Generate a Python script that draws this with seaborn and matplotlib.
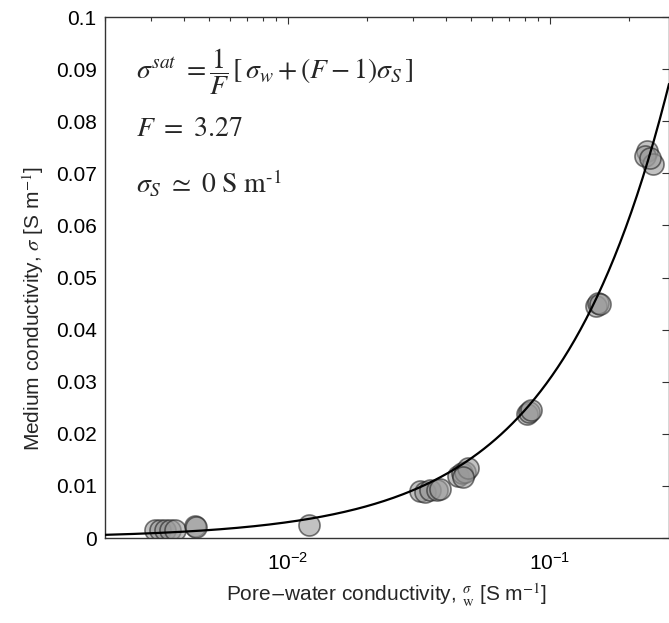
import numpy as np
import pandas as pd
import matplotlib
matplotlib.use("Agg")
import matplotlib.pyplot as plt
import seaborn as sns
from matplotlib.ticker import LogLocator, NullFormatter, FixedLocator

# ---- data ----
pore_water = [0.0031, 0.00325, 0.00339, 0.00355, 0.0037, 0.00442, 0.00445,
              0.0120,
              0.0319, 0.0334, 0.0348, 0.0370, 0.0380,
              0.0446, 0.0462, 0.0474, 0.0486, 0.0466,
              0.0820, 0.0832, 0.0845,
              0.150, 0.153, 0.155,
              0.2344, 0.2303, 0.247, 0.241]
medium = [0.0015, 0.0015, 0.0015, 0.0015, 0.0015, 0.0024, 0.0021,
          0.0025,
          0.0091, 0.0089, 0.0093, 0.0092, 0.0095,
          0.0119, 0.0124, 0.0127, 0.0134, 0.0117,
          0.0238, 0.0242, 0.0246,
          0.0446, 0.0451, 0.0449,
          0.0743, 0.0733, 0.0718, 0.0729]
F = 3.27
sigma_s = 0.0
x_limits = [0.002, 0.285]
y_limits = [0.0, 0.1]
y_ticks = [0, 0.01, 0.02, 0.03, 0.04, 0.05, 0.06, 0.07, 0.08, 0.09, 0.1]
y_tick_labels = ["0", "0.01", "0.02", "0.03", "0.04", "0.05", "0.06", "0.07", "0.08", "0.09", "0.1"]

df = pd.DataFrame({"sw": pore_water, "s": medium})
xs = np.logspace(np.log10(x_limits[0]), np.log10(x_limits[1]), 300)
curve = pd.DataFrame({"sw": xs, "s": (xs + (F - 1) * sigma_s) / F})

sns.set_theme(style="white")
plt.rcParams["font.family"] = ["Liberation Sans", "DejaVu Sans"]
plt.rcParams["mathtext.fontset"] = "stix"

fig = plt.figure(figsize=(6.69, 6.23), dpi=100)
ax = fig.add_axes([0.157, 0.1364, 0.843, 0.8363])

sns.lineplot(data=curve, x="sw", y="s", ax=ax, color="black", linewidth=1.6, zorder=3)
sns.scatterplot(data=df, x="sw", y="s", ax=ax, s=230, color="#9a9a9a", alpha=0.6,
                edgecolor="#222222", linewidth=1.2, zorder=2)

ax.set_xscale("log")
ax.set_xlim(*x_limits)
ax.set_ylim(*y_limits)
ax.set_yticks(y_ticks)
ax.set_yticklabels(y_tick_labels)
ax.xaxis.set_major_locator(FixedLocator([0.01, 0.1]))
ax.xaxis.set_minor_locator(LogLocator(base=10, subs=np.arange(2, 10)))
ax.xaxis.set_minor_formatter(NullFormatter())

for sp in ax.spines.values():
    sp.set_color("#333333")
    sp.set_linewidth(1.0)

ax.tick_params(axis="both", which="both", direction="in", top=True, right=True,
               colors="#333333", labelcolor="black", labelsize=15)
ax.tick_params(axis="both", which="major", length=5, width=0.8)
ax.tick_params(axis="x", which="minor", length=3, width=0.8)
ax.tick_params(axis="x", which="major", pad=10)
ax.tick_params(axis="y", which="major", pad=6)

ax.set_xlabel(r"Pore$-$water conductivity, $^{\sigma}_{\rm w}$ [S m$^{-1}$]",
              fontsize=15, labelpad=6)
ax.set_ylabel(r"Medium conductivity, $\sigma$ [S m$^{-1}$]", fontsize=15)
ax.yaxis.set_label_coords(-0.105, 0.44)

ax.text(0.055, 0.895, r"$\sigma^{sat}\ =\dfrac{1}{F}\,\left[\,\sigma_w+(F-1)\sigma_S\,\right]$",
        transform=ax.transAxes, fontsize=20, va="center", ha="left")
ax.text(0.055, 0.785, r"$F\ =\ \mathrm{3.27}$", transform=ax.transAxes, fontsize=20,
        va="center", ha="left")
ax.text(0.055, 0.68, r"$\sigma_S\ \simeq\ \mathrm{0\ S\ m}^{\text{-}1}$", transform=ax.transAxes,
        fontsize=20, va="center", ha="left")

fig.savefig("out.png", dpi=100)
